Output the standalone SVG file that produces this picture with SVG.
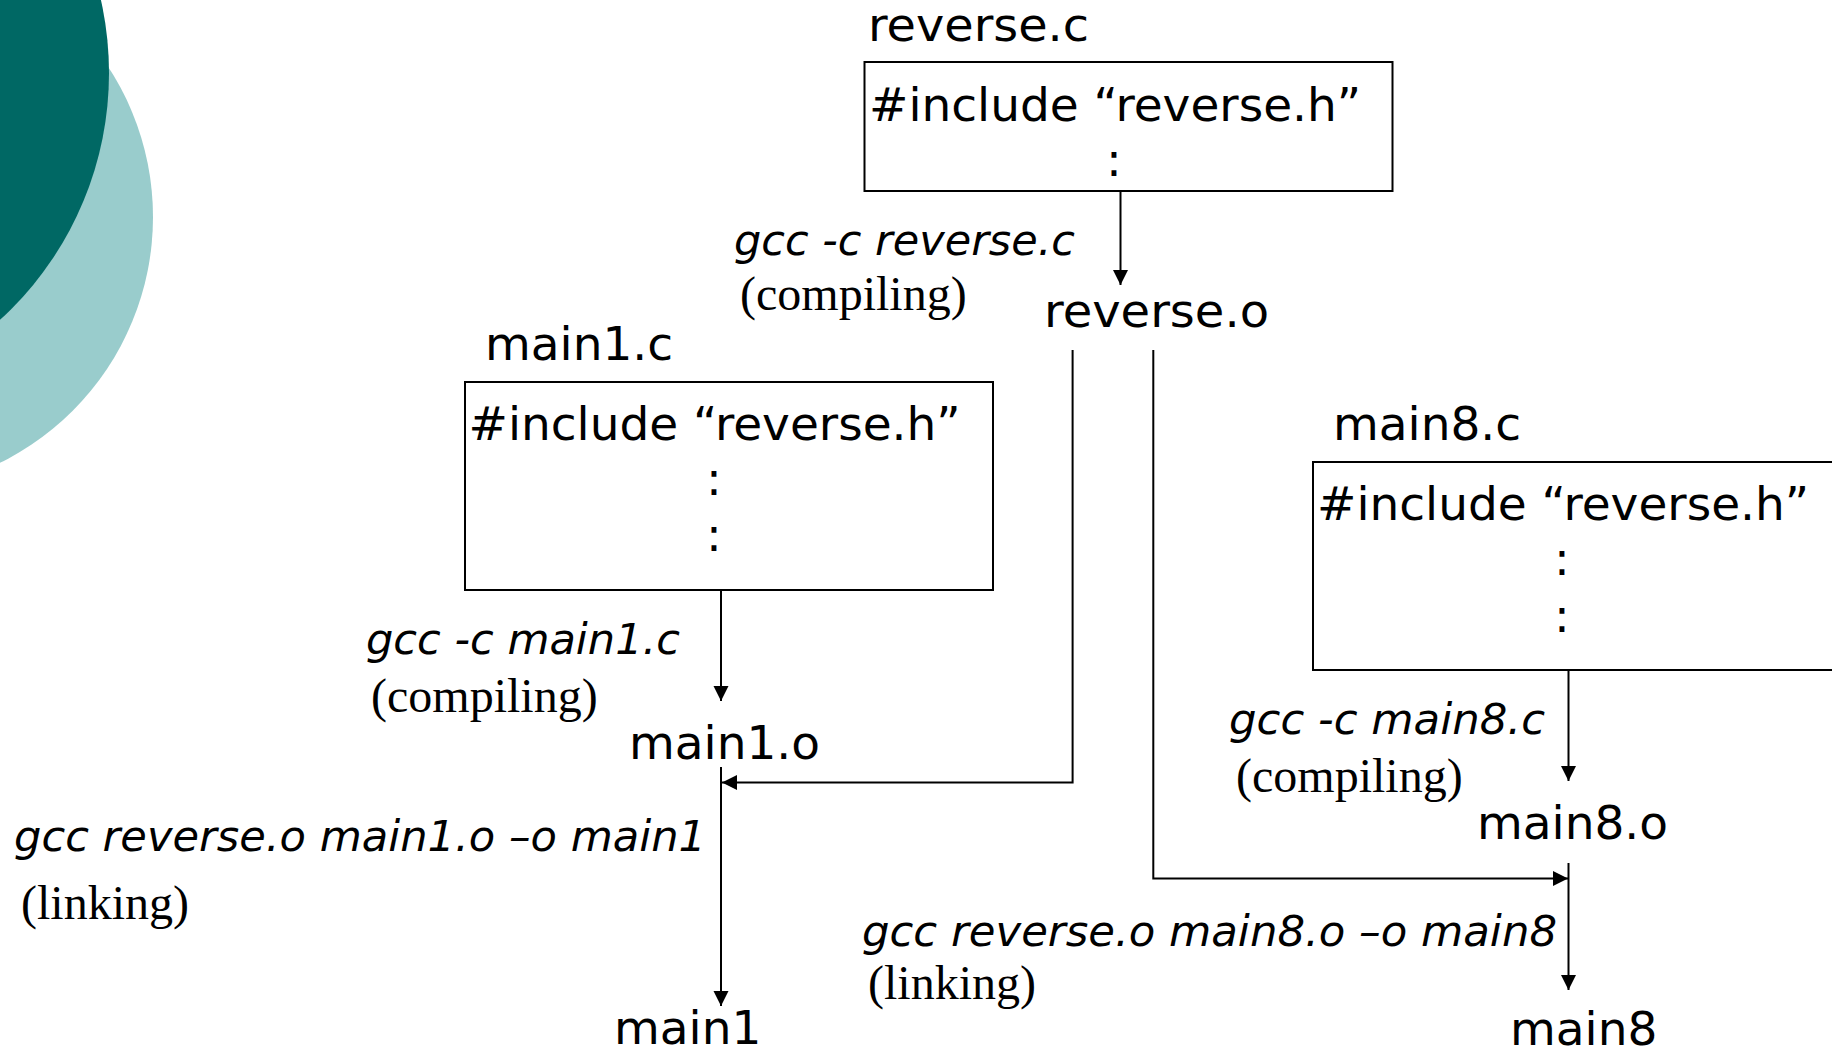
<svg xmlns="http://www.w3.org/2000/svg" width="1832" height="1051" viewBox="0 0 1832 1051">
  <style>
    .sans { font-family: "DejaVu Sans", Verdana, sans-serif; font-size: 47px; fill: #000; }
    .cmd { font-family: "DejaVu Sans", Verdana, sans-serif; font-size: 43px; font-style: italic; fill: #000; }
    .note { font-family: "Liberation Serif", "Times New Roman", serif; font-size: 48px; fill: #000; }
    .box { fill: #fff; stroke: #000; stroke-width: 2; }
    .wire { fill: none; stroke: #000; stroke-width: 2; }
  </style>
  <defs>
    <marker id="head" markerUnits="userSpaceOnUse" markerWidth="16" markerHeight="16" refX="15" refY="7.5" orient="auto">
      <path d="M0,0 L15,7.5 L0,15 z" fill="#000"/>
    </marker>
  </defs>

  <rect x="0" y="0" width="1832" height="1051" fill="#fff"/>

  <!-- decorative corner circles -->
  <g id="corner-decor">
    <circle cx="-121" cy="217" r="274" fill="#99cccc"/>
    <circle cx="-225" cy="73" r="334" fill="#006864"/>
  </g>

  <!-- reverse.c source file -->
  <g id="reverse-c">
    <text class="sans" x="868" y="41" textLength="221" lengthAdjust="spacingAndGlyphs">reverse.c</text>
    <rect class="box" x="864.5" y="62" width="528" height="129"/>
    <text class="sans" x="869" y="121">#include “reverse.h”</text>
    <text class="sans" x="1114" y="176" text-anchor="middle">:</text>
  </g>

  <!-- reverse.o object file -->
  <g id="reverse-o">
    <text class="sans" x="1044" y="327" textLength="225" lengthAdjust="spacingAndGlyphs">reverse.o</text>
  </g>

  <!-- main1.c source file -->
  <g id="main1-c">
    <text class="sans" x="485" y="360">main1.c</text>
    <rect class="box" x="465" y="382" width="528" height="208"/>
    <text class="sans" x="468.5" y="440">#include “reverse.h”</text>
    <text class="sans" x="714" y="495" text-anchor="middle">:</text>
    <text class="sans" x="714" y="551" text-anchor="middle">:</text>
  </g>

  <!-- main1.o object file -->
  <g id="main1-o">
    <text class="sans" x="629" y="759">main1.o</text>
  </g>

  <!-- main1 executable -->
  <g id="main1">
    <text class="sans" x="614" y="1044">main1</text>
  </g>

  <!-- main8.c source file -->
  <g id="main8-c">
    <text class="sans" x="1333" y="440">main8.c</text>
    <rect class="box" x="1313" y="462" width="528" height="208"/>
    <text class="sans" x="1317" y="520">#include “reverse.h”</text>
    <text class="sans" x="1562" y="575" text-anchor="middle">:</text>
    <text class="sans" x="1562" y="632" text-anchor="middle">:</text>
  </g>

  <!-- main8.o object file -->
  <g id="main8-o">
    <text class="sans" x="1477" y="839">main8.o</text>
  </g>

  <!-- main8 executable -->
  <g id="main8">
    <text class="sans" x="1510" y="1045">main8</text>
  </g>

  <!-- build steps -->
  <g id="connectors">
    <line class="wire" x1="1120.5" y1="191" x2="1120.5" y2="285" marker-end="url(#head)"/>
    <line class="wire" x1="721" y1="590" x2="721" y2="701" marker-end="url(#head)"/>
    <line class="wire" x1="1568.5" y1="670" x2="1568.5" y2="781" marker-end="url(#head)"/>
    <polyline class="wire" points="1072.6,350 1072.6,782.5 722,782.5" marker-end="url(#head)"/>
    <polyline class="wire" points="1153.3,350 1153.3,878.5 1568,878.5" marker-end="url(#head)"/>
    <line class="wire" x1="721" y1="767" x2="721" y2="1006" marker-end="url(#head)"/>
    <line class="wire" x1="1568.5" y1="863" x2="1568.5" y2="990" marker-end="url(#head)"/>
  </g>

  <!-- step labels -->
  <g id="labels">
    <text class="cmd" x="734" y="255" textLength="341" lengthAdjust="spacingAndGlyphs">gcc -c reverse.c</text>
    <text class="note" x="740" y="310">(compiling)</text>
    <text class="cmd" x="366" y="654" textLength="314" lengthAdjust="spacingAndGlyphs">gcc -c main1.c</text>
    <text class="note" x="371" y="712">(compiling)</text>
    <text class="cmd" x="14" y="851" textLength="692" lengthAdjust="spacingAndGlyphs">gcc reverse.o main1.o –o main1</text>
    <text class="note" x="21" y="919">(linking)</text>
    <text class="cmd" x="862" y="946" textLength="695" lengthAdjust="spacingAndGlyphs">gcc reverse.o main8.o –o main8</text>
    <text class="note" x="868" y="999">(linking)</text>
    <text class="cmd" x="1229" y="734" textLength="316" lengthAdjust="spacingAndGlyphs">gcc -c main8.c</text>
    <text class="note" x="1236" y="792">(compiling)</text>
  </g>
</svg>
